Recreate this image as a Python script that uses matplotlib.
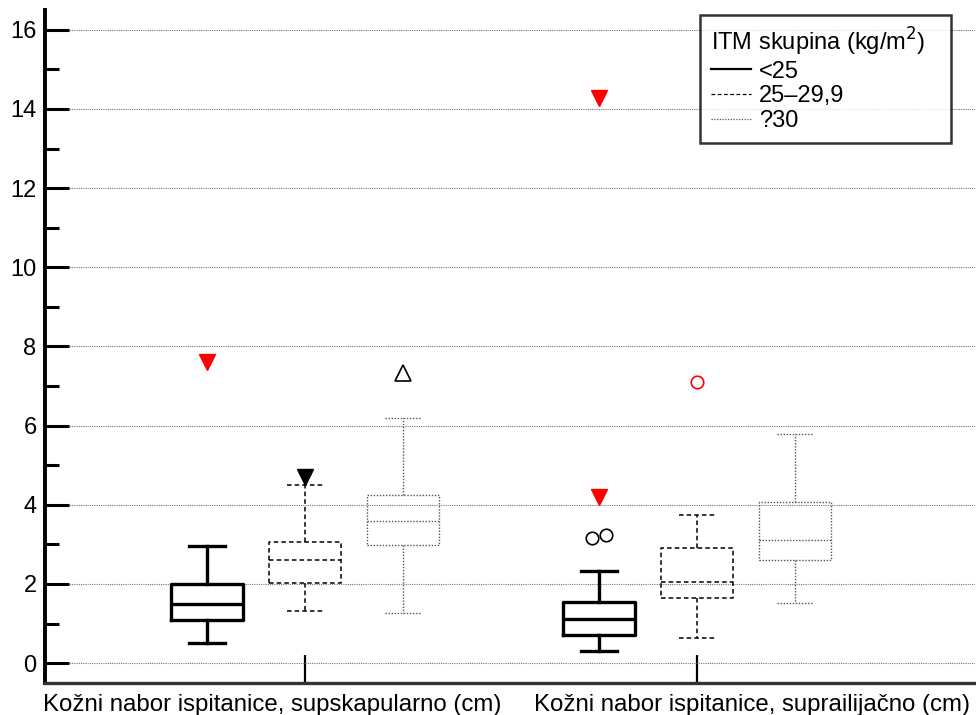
import matplotlib
matplotlib.use("Agg")
from matplotlib import pyplot as plt
from matplotlib.lines import Line2D

plt.rcParams["font.family"] = ["Liberation Sans", "DejaVu Sans"]

# data
measures = ["Kožni nabor ispitanice, supskapularno (cm)",
            "Kožni nabor ispitanice, suprailijačno (cm)"]
groups = ["<25", "25–29,9", "?30"]
legend_title = "ITM skupina (kg/m$^2$)"

# per measure, per BMI group: (whislo, q1, med, q3, whishi)
supskap_stats = [
    (0.50, 1.08, 1.49, 2.00, 2.97),
    (1.33, 2.03, 2.60, 3.05, 4.51),
    (1.27, 2.98, 3.58, 4.25, 6.19),
]
suprail_stats = [
    (0.31, 0.70, 1.11, 1.55, 2.32),
    (0.63, 1.65, 2.04, 2.92, 3.74),
    (1.52, 2.60, 3.10, 4.07, 5.79),
]

# outliers: (measure, group, value, kind, jitter)
outliers = [
    (0, 0, 7.60, "extreme", 0.0),
    (0, 1, 4.69, "extreme_black", 0.0),
    (0, 2, 7.34, "open_tri", 0.0),
    (1, 0, 3.16, "circle", -0.017),
    (1, 0, 3.23, "circle", 0.017),
    (1, 0, 4.20, "extreme", 0.0),
    (1, 0, 14.28, "extreme", 0.0),
    (1, 1, 7.09, "red_circle", 0.0),
]

styles = [
    dict(color="black", ls="-", lw=2.4),
    dict(color="black", ls=(0, (3, 2)), lw=1.1),
    dict(color="#555555", ls=(0, (1, 1.2)), lw=1.0),
]
legend_lw = [1.6, 0.9, 0.9]
markers = {
    "extreme": dict(marker="v", color="red", mfc="red", ms=11),
    "extreme_black": dict(marker="v", color="black", mfc="black", ms=11),
    "open_tri": dict(marker="^", color="black", mfc="none", ms=11, mew=1.2),
    "circle": dict(marker="o", color="black", mfc="none", ms=9, mew=1.2),
    "red_circle": dict(marker="o", color="red", mfc="none", ms=9, mew=1.2),
}

offsets = [-0.25, 0.0, 0.25]
box_w = 0.185


def stat_dict(s):
    lo, q1, med, q3, hi = s
    return dict(whislo=lo, q1=q1, med=med, q3=q3, whishi=hi, fliers=[])


fig = plt.figure(figsize=(9.76, 7.15), dpi=100)
ax = fig.add_axes([0.046, 0.0448, 0.953, 0.9413])

for mi, stats in enumerate([supskap_stats, suprail_stats]):
    for gi, s in enumerate(stats):
        st = styles[gi]
        props = dict(color=st["color"], linestyle=st["ls"], linewidth=st["lw"])
        ax.bxp([stat_dict(s)], positions=[mi + offsets[gi]], widths=box_w,
               showfliers=False, boxprops=props, medianprops=props,
               whiskerprops=props, capprops=props, manage_ticks=False)

for mi, gi, val, kind, jit in outliers:
    ax.plot(mi + offsets[gi] + jit, val, ls="none", **markers[kind])

ax.set_xlim(-0.663, 1.709)
ax.set_ylim(-0.5, 16.5)
ax.set_yticks(range(0, 17, 2))
ax.set_yticks(range(1, 17, 2), minor=True)
ax.yaxis.grid(True, which="major", color="#777777", ls=(0, (1, 1)), lw=0.8)
ax.set_axisbelow(True)

ax.set_xticks([0, 1])
ax.set_xticklabels(["", ""])
ax.tick_params(axis="x", direction="in", length=20, width=1.6, color="black")
ax.tick_params(axis="y", which="major", direction="in", length=17, width=2.2,
               labelsize=17, pad=6)
ax.tick_params(axis="y", which="minor", direction="in", length=10, width=2.2)

for side in ["top", "right"]:
    ax.spines[side].set_visible(False)
ax.spines["left"].set_linewidth(2.8)
ax.spines["bottom"].set_linewidth(2.4)
ax.spines["bottom"].set_color("#333333")

label_x = [-0.084, 1.14]
for lx, name in zip(label_x, measures):
    ax.text(lx, -0.041, name, transform=ax.get_xaxis_transform(),
            ha="center", va="baseline", fontsize=17.3)

handles = [Line2D([], [], color=st["color"], ls=st["ls"], lw=lw)
           for st, lw in zip(styles, legend_lw)]
leg = ax.legend(handles, groups, title=legend_title, loc="upper left",
                bbox_to_anchor=(0.7043, 0.80, 0.2699, 0.1926),
                mode="expand", borderaxespad=0,
                fontsize=17, title_fontsize=17, alignment="left",
                frameon=True, fancybox=False, handlelength=1.7,
                handletextpad=0.35, labelspacing=0.12, borderpad=0.45)
leg.get_frame().set_edgecolor("black")
leg.get_frame().set_linewidth(1.8)

fig.savefig("out.png", dpi=100)
